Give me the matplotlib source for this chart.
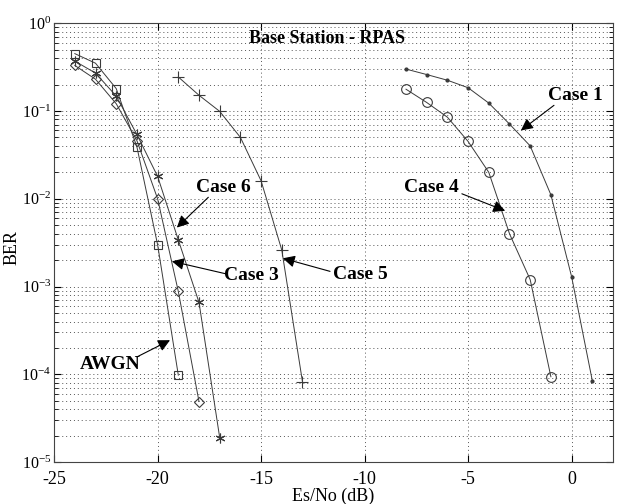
import numpy as np
import matplotlib
matplotlib.use("Agg")
from matplotlib import pyplot as plt
from matplotlib.ticker import LogLocator, FuncFormatter, NullFormatter

plt.rcParams["font.family"] = ["Liberation Serif", "DejaVu Serif"]
plt.rcParams["mathtext.fontset"] = "custom"
plt.rcParams["mathtext.rm"] = "Liberation Serif"
plt.rcParams["mathtext.it"] = "Liberation Serif:italic"
plt.rcParams["axes.unicode_minus"] = False

# data (Es/No in dB, BER)
awgn_x = [-24, -23, -22, -21, -20, -19]
awgn_y = [0.45, 0.35, 0.18, 0.039, 0.003, 9.8e-5]

case3_x = [-24, -23, -22, -21, -20, -19, -18]
case3_y = [0.33, 0.23, 0.121, 0.046, 0.010, 8.8e-4, 4.9e-5]

case6_x = [-24, -23, -22, -21, -20, -19, -18, -17]
case6_y = [0.37, 0.27, 0.148, 0.054, 0.018, 0.0034, 6.6e-4, 1.9e-5]

case5_x = [-19, -18, -17, -16, -15, -14, -13]
case5_y = [0.244, 0.151, 0.099, 0.050, 0.016, 0.0026, 8.2e-5]

case4_x = [-8, -7, -6, -5, -4, -3, -2, -1]
case4_y = [0.177, 0.125, 0.085, 0.045, 0.020, 0.0040, 0.0012, 9.4e-5]

case1_x = [-8, -7, -6, -5, -4, -3, -2, -1, 0, 1]
case1_y = [0.30, 0.26, 0.224, 0.184, 0.123, 0.071, 0.040, 0.0111, 0.0013, 8.5e-5]

line_col = "#3a3a3a"
asterisk = (6, 2, 0)

fig = plt.figure(figsize=(6.22, 5.04), dpi=100)
ax = fig.add_axes([0.087, 0.083, 0.9855 - 0.087, 0.954 - 0.083])

common = dict(color=line_col, lw=0.7, mfc="none", mec=line_col, mew=0.8)
ax.plot(awgn_x, awgn_y, marker="s", ms=6, **common)
ax.plot(case3_x, case3_y, marker="D", ms=5, **common)
ax.plot(case6_x, case6_y, marker=asterisk, ms=7, **common)
ax.plot(case5_x, case5_y, marker="+", ms=8, **common)
ax.plot(case4_x, case4_y, marker="o", ms=7, **common)
ax.plot(case1_x, case1_y, marker=".", ms=4, color=line_col, lw=0.7)

ax.set_yscale("log")
ax.set_xlim(-25, 2)
ax.set_ylim(1e-5, 1)
ax.set_xticks([-25, -20, -15, -10, -5, 0])
ax.yaxis.set_major_locator(LogLocator(base=10, numticks=10))
ax.yaxis.set_minor_locator(LogLocator(base=10, subs=np.arange(2, 10), numticks=100))
ax.yaxis.set_major_formatter(
    FuncFormatter(lambda v, pos: r"$10^{\mathregular{%d}}$" % round(np.log10(v)))
)
ax.yaxis.set_minor_formatter(NullFormatter())

ax.grid(True, which="major", axis="both", ls=(0, (1, 3)), color="#555555", lw=0.7)
ax.grid(True, which="minor", axis="y", ls=(0, (1, 3)), color="#555555", lw=0.7)
ax.tick_params(which="both", direction="in", top=True, right=True)
ax.tick_params(axis="x", labelsize=13, pad=6)
ax.tick_params(axis="y", labelsize=11.5, pad=2)
ax.tick_params(which="major", length=5)
ax.tick_params(which="minor", length=3)
for s in ax.spines.values():
    s.set_linewidth(0.8)
    s.set_color("#444444")

ax.set_xlabel("Es/No (dB)", fontsize=13, labelpad=0)
ax.set_ylabel("BER", fontsize=13)
ax.yaxis.set_label_coords(-0.06, 0.49)

ax.text(-11.8, 0.67, "Base Station - RPAS", ha="center", va="center",
        fontsize=13, fontweight="bold")

arrow = dict(arrowstyle="-|>", color="k", lw=0.8, mutation_scale=18,
             shrinkA=0, shrinkB=0)
notes = [
    ("Case 1", (0.17, 0.151), (-0.85, 0.116), (-2.45, 0.060)),
    ("Case 4", (-6.75, 0.0135), (-5.30, 0.0114), (-3.21, 0.0073)),
    ("Case 6", (-16.82, 0.0135), (-17.55, 0.0104), (-19.07, 0.0047)),
    ("Case 3", (-15.45, 0.00133), (-16.66, 0.00139), (-19.31, 0.00194)),
    ("Case 5", (-10.22, 0.00139), (-11.67, 0.00149), (-13.95, 0.0021)),
    ("AWGN", (-22.29, 1.3e-4), (-21.0, 1.58e-4), (-19.4, 2.45e-4)),
]
for label, txt, tail, tip in notes:
    ax.text(txt[0], txt[1], label, ha="center", va="center",
            fontsize=14, fontweight="bold")
    ax.annotate("", xy=tip, xytext=tail, arrowprops=arrow)

fig.savefig("out.png", dpi=100)
